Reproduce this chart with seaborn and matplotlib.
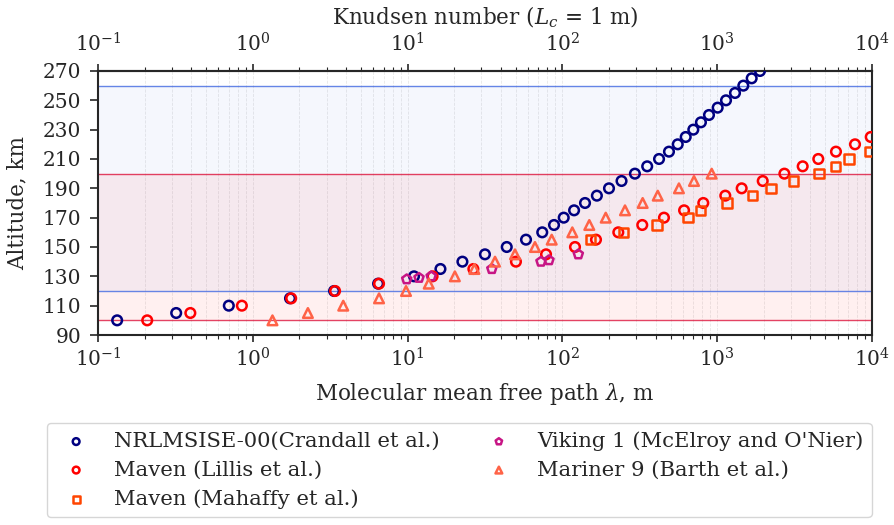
import matplotlib
matplotlib.use("Agg")
import matplotlib.pyplot as plt
import seaborn as sns

# NRLMSISE-00 model (Crandall et al.)
nrl_alt = [100, 105, 110, 115, 120, 125, 130, 135, 140, 145, 150, 155, 160, 165,
           170, 175, 180, 185, 190, 195, 200, 205, 210, 215, 220, 225, 230, 235,
           240, 245, 250, 255, 260, 265, 270]
nrl_mfp = [0.133, 0.32, 0.70, 1.74, 3.35, 6.45, 11.0, 16.3, 22.6, 31.6, 43.7, 58.2,
           74.1, 88.3, 102, 119, 140, 167, 200, 241, 294, 353, 421, 488, 556, 626,
           701, 785, 885, 1007, 1140, 1303, 1475, 1670, 1890]

# Maven (Lillis et al.)
lil_alt = [100, 105, 110, 115, 120, 125, 130, 135, 140, 145, 150, 155, 160, 165,
           170, 175, 180, 185, 190, 195, 200, 205, 210, 215, 220, 225]
lil_mfp = [0.208, 0.395, 0.85, 1.77, 3.40, 6.54, 14.5, 26.6, 50.1, 78.4, 120.6, 164.8,
           229.7, 328, 453, 611, 813, 1128, 1439, 1968, 2716, 3566, 4498, 5850, 7766, 9810]

# Maven (Mahaffy et al.)
mah_alt = [155, 160, 165, 170, 175, 180, 185, 190, 195, 200, 205, 210, 215]
mah_mfp = [152, 248, 410, 645, 782, 1162, 1695, 2228, 3119, 4547, 5824, 7134, 9610]

# Viking 1 (McElroy and O'Nier)
vik_alt = [128, 129, 130, 135, 140, 141, 145]
vik_mfp = [9.87, 11.85, 14.2, 35.0, 72.7, 81.9, 126.7]

# Mariner 9 (Barth et al.)
mar_alt = [100, 105, 110, 115, 120, 125, 130, 135, 140, 145, 150, 155, 160, 165,
           170, 175, 180, 185, 190, 195, 200]
mar_mfp = [1.34, 2.27, 3.84, 6.54, 9.77, 13.7, 20.2, 27.0, 36.7, 49.4, 66.5, 85.3,
           115.9, 149.2, 190.5, 253.7, 330, 413, 566, 708, 921]

sns.set_style("ticks")
plt.rcParams["font.family"] = "DejaVu Serif"
plt.rcParams["mathtext.fontset"] = "dejavuserif"

fig = plt.figure(figsize=(8.94, 5.25), dpi=100)
ax = fig.add_axes([0.1096, 0.3619, 0.8658, 0.5029])

# atmosphere bands
ax.axhspan(120, 260, color="royalblue", alpha=0.05, lw=0)
ax.axhspan(100, 200, color="red", alpha=0.06, lw=0)
for h in [260, 120]:
    ax.axhline(h, color="royalblue", lw=1.0, alpha=0.8)
for h in [200, 100]:
    ax.axhline(h, color="crimson", lw=1.0, alpha=0.8)

series = [
    (nrl_mfp, nrl_alt, "o", "navy", "NRLMSISE-00(Crandall et al.)"),
    (lil_mfp, lil_alt, "o", "red", "Maven (Lillis et al.)"),
    (mah_mfp, mah_alt, "s", "orangered", "Maven (Mahaffy et al.)"),
    (vik_mfp, vik_alt, "p", "mediumvioletred", "Viking 1 (McElroy and O'Nier)"),
    (mar_mfp, mar_alt, "^", "tomato", "Mariner 9 (Barth et al.)"),
]
for x, y, m, c, lab in series:
    sns.scatterplot(x=x, y=y, marker=m, color=c, facecolor="none", edgecolor=c,
                    linewidth=1.8, s=48, label=lab, ax=ax, zorder=3)

ax.set_xscale("log")
ax.set_xlim(1e-1, 1e4)
ax.set_ylim(90, 270)
ax.set_yticks(range(90, 271, 20))
ax.grid(True, which="both", axis="x", color="#cccccc", lw=0.6, ls="--", alpha=0.45)
ax.set_axisbelow(True)

ax.set_xlabel(r"Molecular mean free path $\lambda$, m", fontsize=15.5, labelpad=8)
ax.set_ylabel("Altitude, km", fontsize=15.5, labelpad=10)
ax.tick_params(axis="x", which="major", labelsize=14.5, length=5, width=1.2)
ax.tick_params(axis="y", which="major", labelsize=14.5, length=6, width=1.2, pad=6)
ax.tick_params(axis="x", which="minor", length=3, width=0.8)
for sp in ax.spines.values():
    sp.set_linewidth(1.5)

top = ax.secondary_xaxis("top", functions=(lambda v: v, lambda v: v))
top.set_xlabel(r"Knudsen number ($L_c$ = 1 m)", fontsize=15.5, labelpad=6)
top.tick_params(axis="x", which="major", labelsize=14.5, length=5, width=1.2, pad=6)
top.tick_params(axis="x", which="minor", length=3, width=0.8)
top.spines["top"].set_linewidth(1.5)

ax.legend(loc="upper left", bbox_to_anchor=(0.0521, 0.1943),
          bbox_transform=fig.transFigure, borderaxespad=0, ncol=2, fontsize=15.2,
          markerscale=0.7, labelspacing=0.45, columnspacing=1.8)

fig.savefig("out.png", dpi=100)
